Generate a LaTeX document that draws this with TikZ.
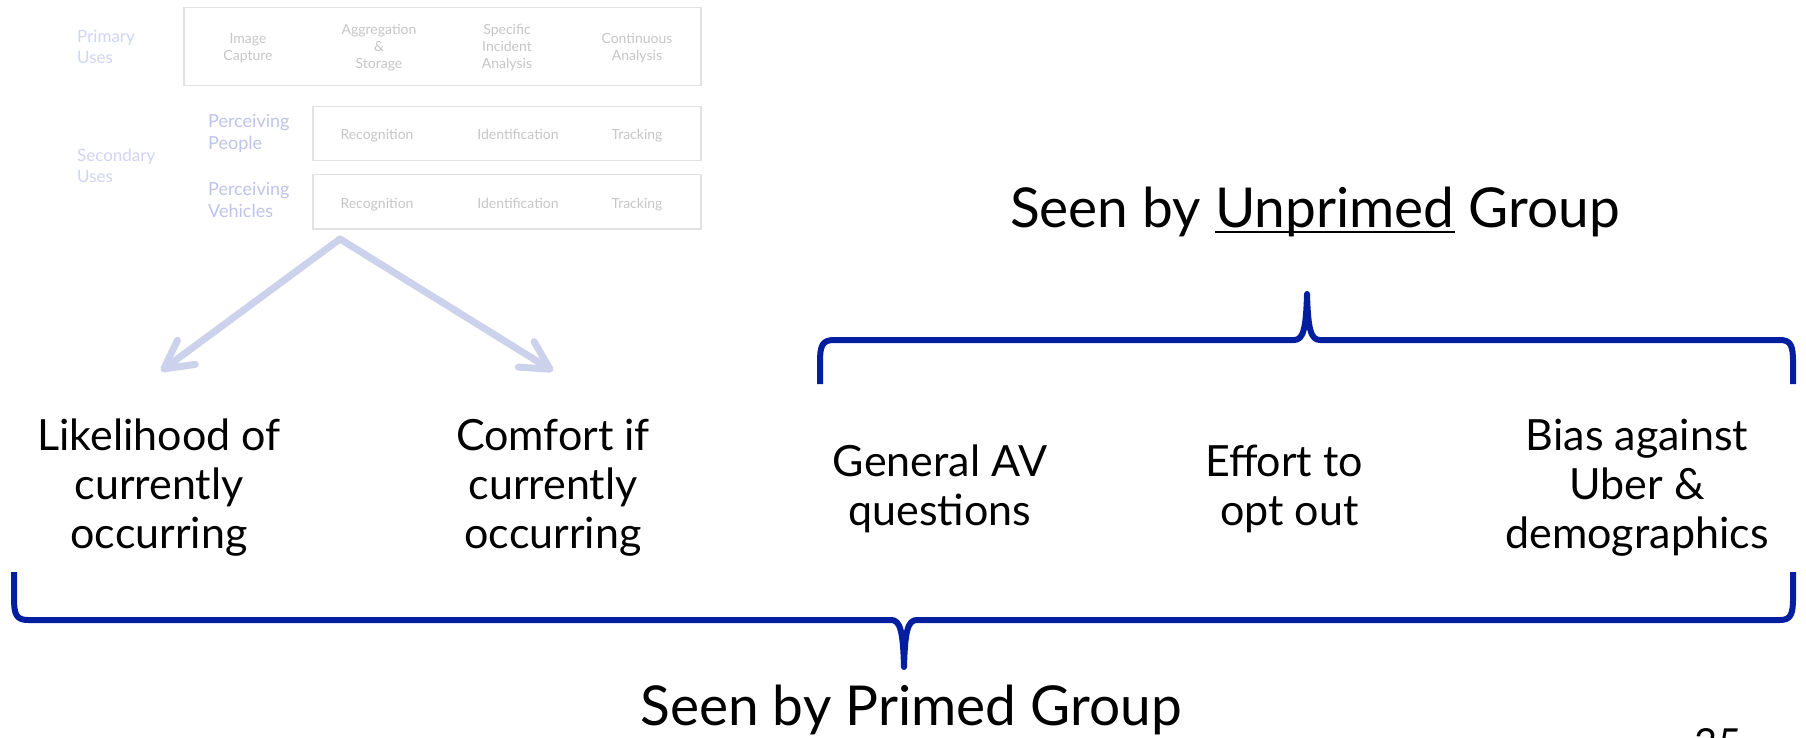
\documentclass[tikz,border=0pt]{standalone}
\usepackage{fontspec}
\setmainfont{Lato}
\usetikzlibrary{arrows.meta}
\definecolor{bracec}{RGB}{4,30,160}
\definecolor{arrc}{RGB}{205,210,236}
\definecolor{fadel}{RGB}{208,213,243}
\definecolor{percl}{RGB}{190,196,234}
\definecolor{greyt}{RGB}{198,198,198}
\definecolor{boxc}{RGB}{226,226,226}
\newcommand\myul[1]{\setbox0\hbox{#1}\rlap{\rule[-6pt]{\wd0}{2.5pt}}\box0\relax}
\begin{document}
\begin{tikzpicture}[x=1pt,y=-1pt,
  big/.style={font=\fontsize{43}{49}\selectfont, align=center, inner sep=0pt, anchor=base},
  ttl/.style={font=\fontsize{55}{62}\selectfont, inner sep=0pt, anchor=base},
  uselbl/.style={font=\fontsize{17}{21}\selectfont, text=fadel, align=left, inner sep=0pt, anchor=base west},
  perclbl/.style={font=\fontsize{18}{22}\selectfont, text=percl, align=left, inner sep=0pt, anchor=base west},
  cell/.style={font=\fontsize{14}{17}\selectfont, text=greyt, align=center, inner sep=0pt},
  rowcell/.style={font=\fontsize{14}{17}\selectfont, text=greyt, inner sep=0pt, anchor=base},
  tbox/.style={draw=boxc, line width=1.5pt},
  brace/.style={draw=bracec, line width=6pt, line join=round, line cap=butt},
  arr/.style={draw=arrc, line width=7pt, line cap=round,
    -{Straight Barb[length=28pt,width=30pt,round]}}]
\clip (0,0) rectangle (1806,738);
\fill[white] (0,0) rectangle (1806,738);

% ---- faded table ----
\node[uselbl] (prim) at (77,64) {Primary\\Uses};
\node[tbox, minimum width=517pt, minimum height=78pt, anchor=north west, inner sep=0pt] (pbox) at (183,7) {};
\node[cell] (c1) at (248,48) {Image\\Capture};
\node[cell] (c2) at (379,48) {Aggregation\\\&\\Storage};
\node[cell] (c3) at (507,48) {Specific\\Incident\\Analysis};
\node[cell] (c4) at (637,48) {Continuous\\Analysis};

\node[uselbl] (sec) at (77,183) {Secondary\\Uses};
\node[perclbl] (ppl) at (208,150) {Perceiving\\People};
\node[tbox, minimum width=388pt, minimum height=54pt, anchor=north west, inner sep=0pt] (pplbox) at (312,106) {};
\node[rowcell] (r1) at (377,140) {Recognition};
\node[rowcell] (r2) at (518,140) {Identification};
\node[rowcell] (r3) at (637,140) {Tracking};

\node[perclbl] (veh) at (208,218) {Perceiving\\Vehicles};
\node[tbox, minimum width=388pt, minimum height=54pt, anchor=north west, inner sep=0pt] (vehbox) at (312,174) {};
\node[rowcell] (v1) at (377,208) {Recognition};
\node[rowcell] (v2) at (518,208) {Identification};
\node[rowcell] (v3) at (637,208) {Tracking};

% ---- arrows ----
\coordinate (apex) at (340,239);
\coordinate (tipL) at (161,371);
\coordinate (tipR) at (553,371);
\draw[arr] (apex) -- (tipL);
\draw[arr] (apex) -- (tipR);

% ---- question groups (anchor = baseline of last line) ----
\node[big] (lik) at (159,548) {Likelihood of\\currently\\occurring};
\node[big] (com) at (553,548) {Comfort if\\currently\\occurring};
\node[big] (gen) at (940,525) {General AV\\questions};
\node[big] (eff) at (1284,525) {Effort to\\\ opt out};
\node[big] (bias) at (1637,548) {Bias against\\Uber \&\\demographics};

% ---- titles ----
\node[ttl] (unp) at (1315,227) {Seen by \myul{Unprimed} Group};
\node[ttl] (pri) at (911,725) {Seen by Primed Group};
\node[font=\fontsize{40}{48}\selectfont, inner sep=0pt, anchor=north] (pg) at (1718,728) {35};

% ---- braces ----
\draw[brace] (820,384) -- (820,362) .. controls (820,346) and (822,340) .. (834,340)
  -- (1294,340) .. controls (1303,340) and (1306,330) .. (1307,294)
  .. controls (1308,330) and (1311,340) .. (1320,340)
  -- (1780,340) .. controls (1791,340) and (1793,346) .. (1793,362) -- (1793,384);
\draw[brace] (14,572) -- (14,598) .. controls (14,614) and (16,620) .. (28,620)
  -- (891,620) .. controls (900,620) and (903,630) .. (904,667)
  .. controls (905,630) and (908,620) .. (917,620)
  -- (1780,620) .. controls (1791,620) and (1793,614) .. (1793,598) -- (1793,572);
\end{tikzpicture}
\end{document}
